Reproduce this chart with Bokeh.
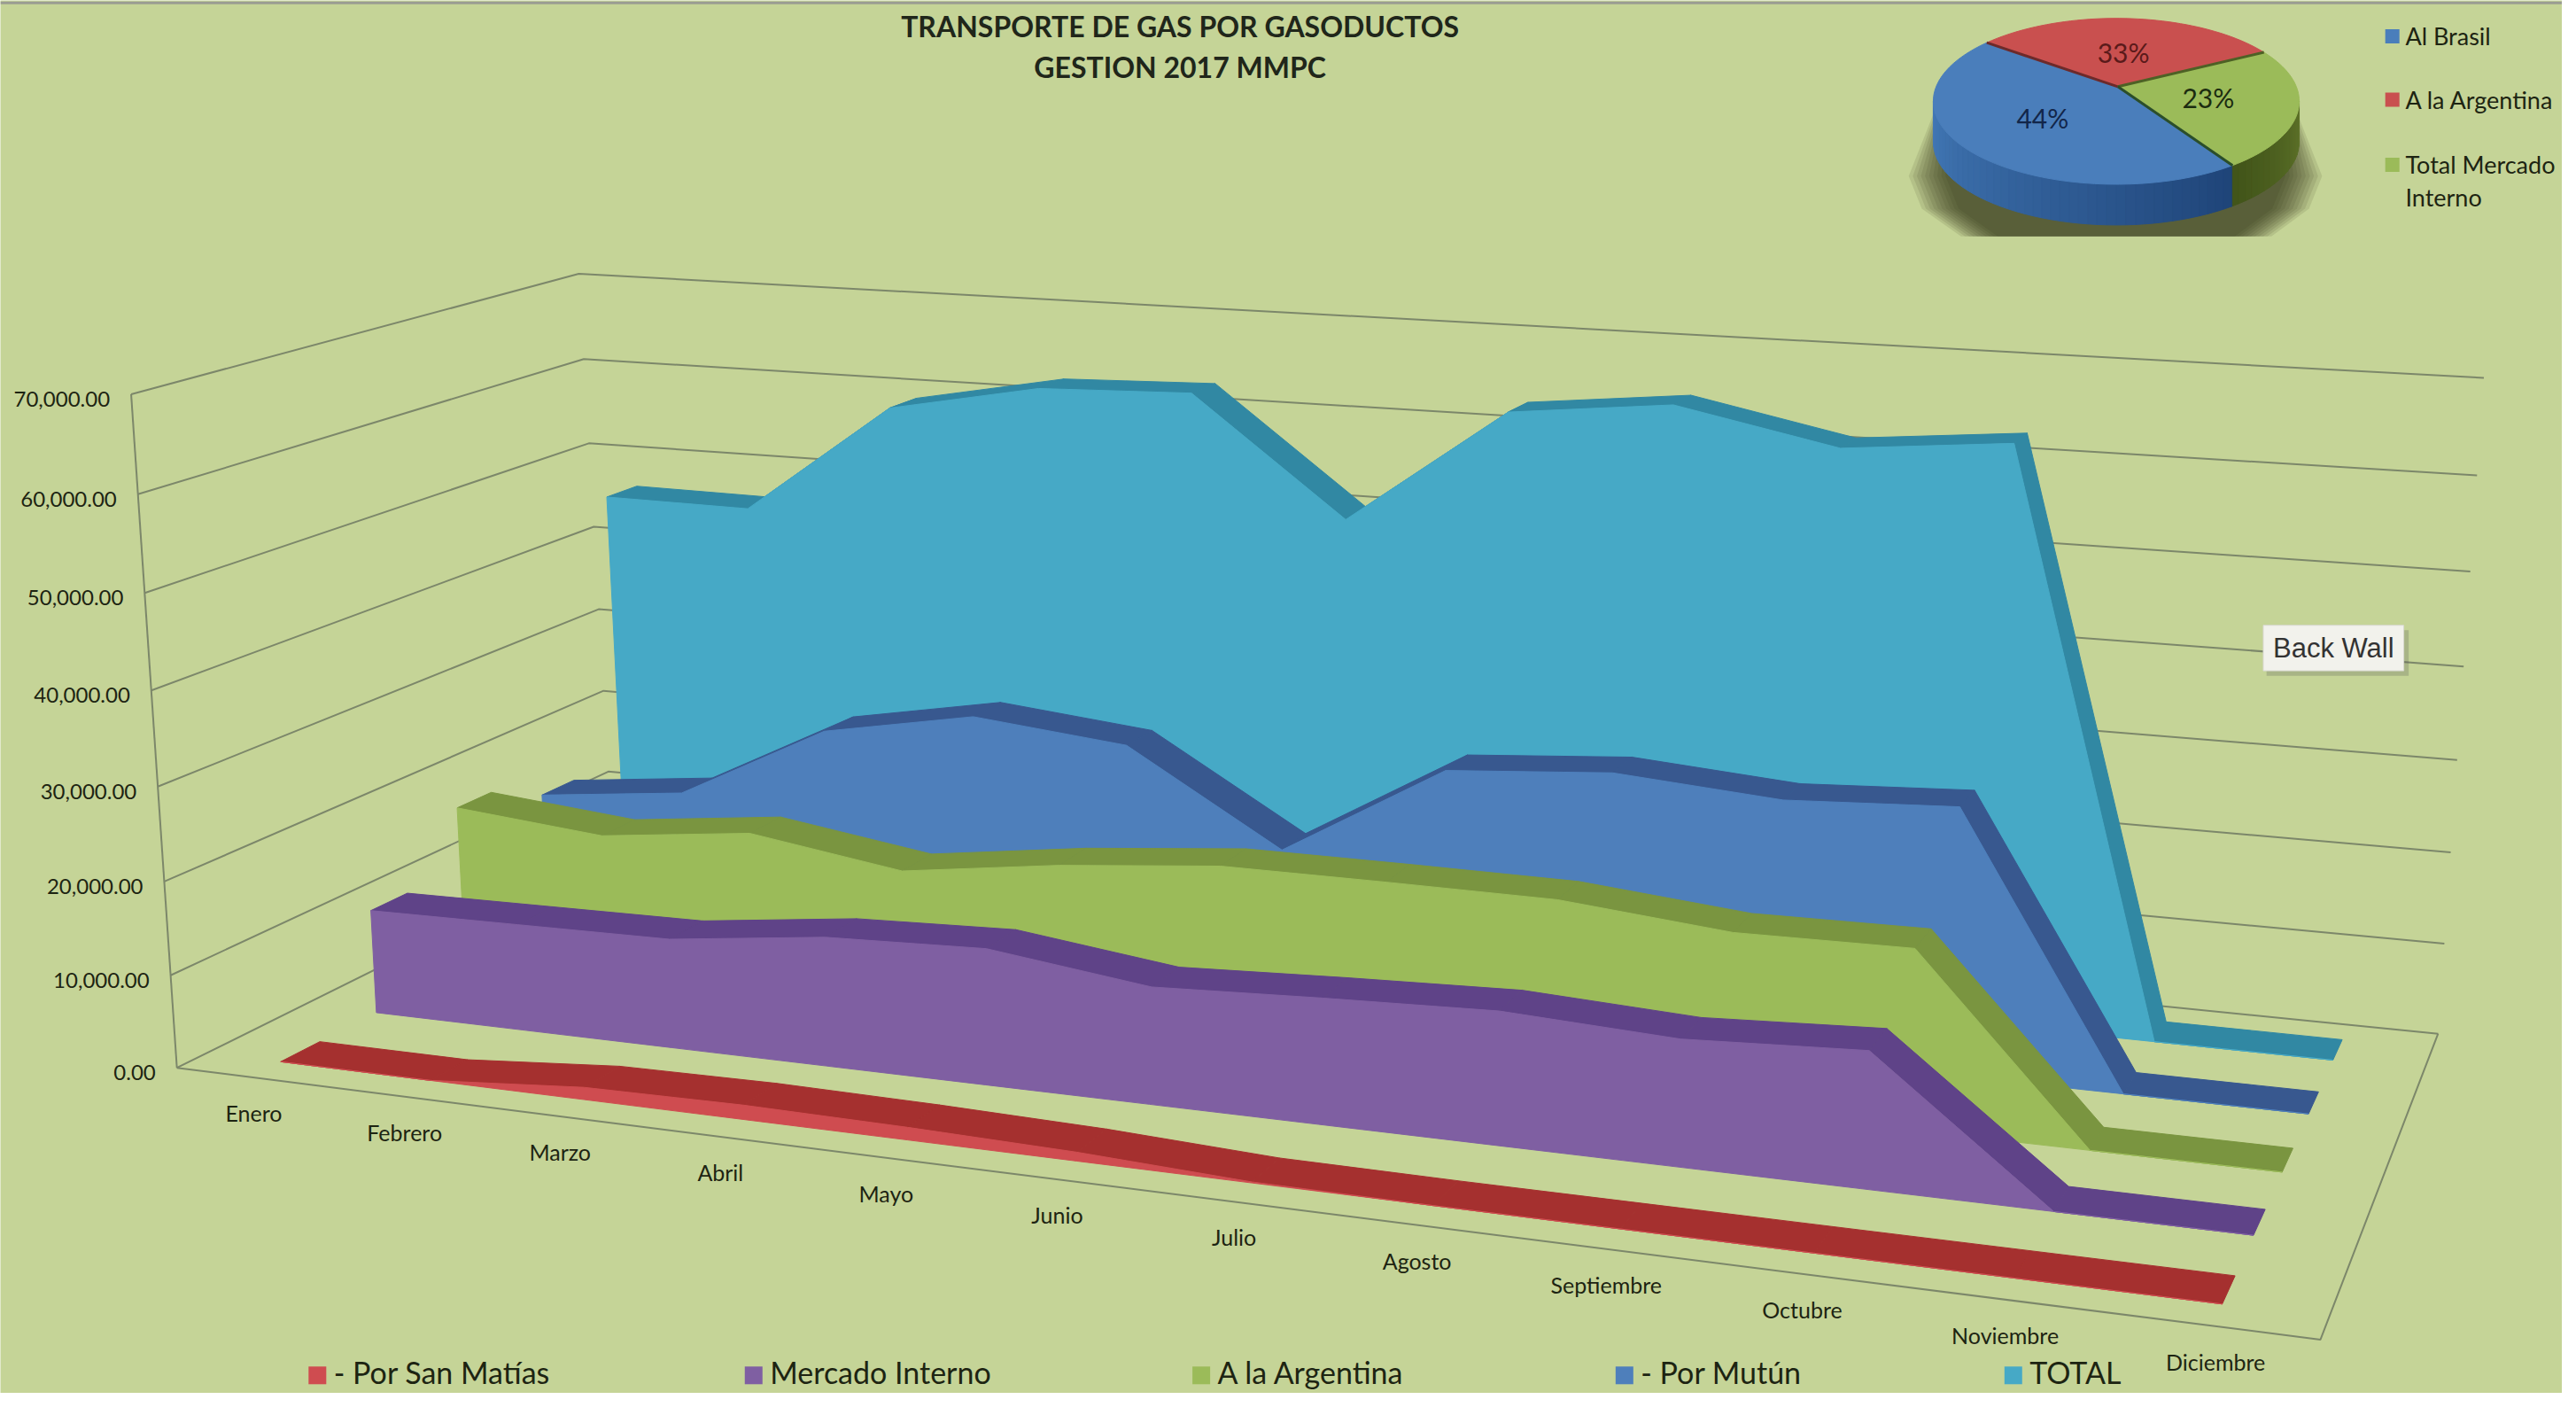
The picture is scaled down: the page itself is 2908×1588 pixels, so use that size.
from bokeh.plotting import figure
from bokeh.models import Range1d
from bokeh.embed import file_html
from bokeh.resources import INLINE
from bokeh.core.properties import value
import numpy as np

# ---------- data ----------
months = ["Enero", "Febrero", "Marzo", "Abril", "Mayo", "Junio", "Julio", "Agosto",
          "Septiembre", "Octubre", "Noviembre", "Diciembre"]
san_matias = [0, 0, 1300, 1500, 1300, 900, 100, 0, 0, 0, 0, 0]
mercado_interno = [11400, 11600, 11800, 13800, 14400, 12250, 13000, 13600, 12750, 13600, 0, 0]
a_la_argentina = [18250, 16700, 18600, 16100, 18400, 20000, 20000, 19900, 18300, 18500, 0, 0]
por_mutun = [15300, 17100, 25700, 28800, 27100, 17100, 27400, 28700, 27400, 28300, 0, 0]
total = [46400, 46200, 58800, 62000, 62500, 49700, 62500, 64300, 60800, 62400, 0, 0]
y_ticks = [0, 10000, 20000, 30000, 40000, 50000, 60000, 70000]

series_names = ["- Por San Matías", "Mercado Interno", "A la Argentina", "- Por Mutún", "TOTAL"]
series_values = [san_matias, mercado_interno, a_la_argentina, por_mutun, total]
face_colors = ["#CF4C50", "#7F5FA2", "#9BBB59", "#4E7FBB", "#46A9C6"]
rib_colors = ["#A5302F", "#5F4388", "#7A9540", "#38588F", "#3188A3"]

pie_names = ["A la Argentina", "Total Mercado", "Al Brasil"]
pie_shares = [33, 23, 44]
pie_colors = ["#C9504F", "#9BBB59", "#4A7EBB"]
pie_text_colors = ["#5a1a1a", "#1c2c10", "#12264a"]

BG = "#C5D497"
GRID = "#7C876A"
FONT = "Lato"

# ---------- picture space: a 1568 x 856 view ----------
p = figure(width=2892, height=1572, output_backend="svg", toolbar_location=None,
           x_range=Range1d(0, 1568), y_range=Range1d(856, 0),
           background_fill_color=BG, border_fill_color=BG, min_border=0)
p.xaxis.visible = False
p.yaxis.visible = False
p.grid.visible = False
p.outline_line_color = None


def fit_camera(c00, c10, c01, c11, tops):
    """Projective camera (u, v, t) -> screen, from floor corners and wall-top corners."""
    x0, y0 = c00; x1, y1 = c10; x2, y2 = c01; x3, y3 = c11
    dx1, dy1 = x1 - x3, y1 - y3
    dx2, dy2 = x2 - x3, y2 - y3
    sx, sy = x0 - x1 + x3 - x2, y0 - y1 + y3 - y2
    den = dx1 * dy2 - dx2 * dy1
    g = (sx * dy2 - dx2 * sy) / den
    h = (dx1 * sy - sx * dy1) / den
    a, b = x1 - x0 + g * x1, x2 - x0 + h * x2
    d, e = y1 - y0 + g * y1, y2 - y0 + h * y2
    rows, rhs = [], []
    for (u, v), (X, Y) in tops.items():
        w0 = 1 + g * u + h * v
        rows.append([1, 0, -X]); rhs.append(X * w0 - (a * u + b * v + x0))
        rows.append([0, 1, -Y]); rhs.append(Y * w0 - (d * u + e * v + y0))
    c, f, i = np.linalg.lstsq(np.array(rows, float), np.array(rhs, float), rcond=None)[0]

    def raw(u, v, t):
        u, v, t = np.asarray(u, float), np.asarray(v, float), np.asarray(t, float)
        w = 1 + g * u + h * v + i * t
        return (a * u + b * v + c * t + x0) / w, (d * u + e * v + f * t + y0) / w

    # residual at the wall-top corners, spread over the box so the walls land exactly
    res = {k: (X - raw(k[0], k[1], 1.0)[0], Y - raw(k[0], k[1], 1.0)[1]) for k, (X, Y) in tops.items()}

    def cam(u, v, t):
        u, v, t = np.asarray(u, float), np.asarray(v, float), np.asarray(t, float)
        x, y = raw(u, v, t)
        for n in (0, 1):
            r = ((1 - u) * (1 - v) * res[(0, 0)][n] + u * (1 - v) * res[(1, 0)][n]
                 + (1 - u) * v * res[(0, 1)][n] + u * v * res[(1, 1)][n]) * t
            if n == 0:
                x = x + r + 40 * u * (1 - u) * t
            else:
                y = y + r
        return x, y
    return cam


camera = fit_camera((108, 656), (1420, 823), (375, 523), (1492, 635),
                    {(0, 0): (80, 242), (0, 1): (354, 168), (1, 1): (1520, 232), (1, 0): (1462, 320)})
Y_MAX = 70000.0


def proj(u, v, val):
    return camera(u, v, np.asarray(val, float) / Y_MAX)


def month_u(m):
    return (np.asarray(m, float) + 0.5) / 12


# ---------- frame line of the screenshot ----------
p.line([0, 1568], [1.5, 1.5], line_color="#9a9c92", line_width=3)

# ---------- walls ----------
for tick in y_ticks:
    xs, ys = proj([0, 0, 1], [0, 1, 1], [tick, tick, tick])
    p.line(list(xs), list(ys), line_color=GRID, line_width=2)
xs, ys = proj([0, 0], [0, 0], [0, Y_MAX])
p.line(list(xs), list(ys), line_color=GRID, line_width=2)
xs, ys = proj([0, 1, 1], [0, 0, 1], [0, 0, 0])
p.line(list(xs), list(ys), line_color=GRID, line_width=2)

# ---------- areas, back row first ----------
m = np.arange(12)
for r in range(4, -1, -1):
    vals = np.array(series_values[r], float)
    v_f, v_b = (r + 0.3) / 5, (r + 0.7) / 5
    u = month_u(m)
    fx, fy = proj(u, np.full(12, v_f), vals)
    bx, by = proj(u, np.full(12, v_b), vals)
    qx = [[fx[i], fx[i + 1], bx[i + 1], bx[i]] for i in range(11)]
    qy = [[fy[i], fy[i + 1], by[i + 1], by[i]] for i in range(11)]
    p.patches(qx, qy, fill_color=rib_colors[r], line_color=rib_colors[r], line_width=1)
    zx, zy = proj(u, np.full(12, v_f), np.zeros(12))
    p.patch(list(fx) + list(zx[::-1]), list(fy) + list(zy[::-1]),
            fill_color=face_colors[r], line_color=face_colors[r], line_width=1)

# ---------- axis texts ----------
for tick in y_ticks:
    x, y = proj(0, 0, tick)
    p.text([float(x) - 13], [float(y) + 3], text=[f"{tick:,.2f}"], text_font=value(FONT),
           text_font_size=value("24px"), text_color="#1d2412", text_align="right", text_baseline="middle")
lx, ly = proj(month_u(m), np.zeros(12), np.zeros(12))
p.text(list(lx + 2), list(ly + 22), text=months, text_font=value(FONT),
       text_font_size=value("25px"), text_color="#1d2412", text_align="center", text_baseline="middle")

# ---------- titles ----------
for txt, yy in [("TRANSPORTE DE GAS POR GASODUCTOS", 16), ("GESTION 2017 MMPC", 41)]:
    p.text([722], [yy], text=[txt], text_font=value(FONT), text_font_size=value("32px"),
           text_font_style="bold", text_color="#20261a", text_align="center", text_baseline="middle")

# ---------- bottom legend ----------
leg_x = [194, 461, 735, 994, 1232]
p.scatter(leg_x, [845] * 5, marker="square", size=20, fill_color=face_colors, line_color=None)
p.text([x + 10 for x in leg_x], [843] * 5, text=series_names, text_font=value(FONT),
       text_font_size=value("34px"), text_color="#1d2412", text_align="left", text_baseline="middle")

# ---------- pie ----------
AX, AY = 1296, 53
CX, CY, RX, RY, DEPTH = 1295, 62, 112, 51, 25


def rim(deg):
    d = np.radians(deg)
    w = np.radians(deg + 3.6 + 11.6 * np.cos(d) - 0.9 * np.sin(d))
    return CX + RX * np.cos(w), CY - RY * np.sin(w)


# soft shadow under the disc
for k in range(10):
    sx = [1183 + k, 1168 + 2.5 * k, 1176 + 2.5 * k, 1200 + 2.5 * k, 1390 - 2.5 * k, 1413 - 2.5 * k, 1421 - 2.5 * k, 1406 - k]
    sy = [70, 108, 128, 145, 145, 128, 108, 70]
    p.patch(sx, sy, fill_color="#2a3010", fill_alpha=0.11, line_color=None)

# side wall
b_deg = 141 - (pie_shares[0] + pie_shares[1]) * 3.6
bx_, by_ = rim(b_deg)
b_ang = np.degrees(np.arctan2(-(by_ - CY) / RY, (bx_ - CX) / RX)) % 360


def mix(c1, c2, t):
    a = [int(c1[i:i + 2], 16) for i in (1, 3, 5)]
    b = [int(c2[i:i + 2], 16) for i in (1, 3, 5)]
    return "#%02x%02x%02x" % tuple(int(a[i] + (b[i] - a[i]) * t) for i in range(3))


angles = np.arange(180, 361, 3.0)
angles = np.sort(np.append(angles, b_ang))
for a0, a1 in zip(angles[:-1], angles[1:]):
    x0, x1 = CX + RX * np.cos(np.radians(a0)), CX + RX * np.cos(np.radians(a1))
    y0, y1 = CY - RY * np.sin(np.radians(a0)), CY - RY * np.sin(np.radians(a1))
    if a0 < b_ang:
        col = mix("#4379B7", "#1F4478", (a0 - 180) / (b_ang - 180))
    else:
        col = mix("#42551A", "#5F742B", (a0 - b_ang) / (360 - b_ang))
    p.patch([x0, x1, x1, x0], [y0, y1, y1 + DEPTH, y0 + DEPTH], fill_color=col, line_color=col, line_width=1)

# top of the disc
start = 141.0
for i, share in enumerate(pie_shares):
    end = start - share * 3.6
    rx_, ry_ = rim(np.linspace(start, end, 50))
    p.patch([AX] + list(rx_), [AY] + list(ry_), fill_color=pie_colors[i], line_color=pie_colors[i], line_width=1)
    mx, my = rim((start + end) / 2)
    p.text([AX + 0.5 * (float(mx) - AX)], [AY + 0.5 * (float(my) - AY)], text=[f"{share}%"],
           text_font=value(FONT), text_font_size=value("30px"), text_color=pie_text_colors[i],
           text_align="center", text_baseline="middle")
    start = end
start = 141.0
for share, col in zip(pie_shares, ["#6d2a2a", "#4d6125", "#2b4e2a"]):
    ex, ey = rim(start)
    p.line([AX, float(ex)], [AY, float(ey)], line_color=col, line_width=3)
    start -= share * 3.6

# pie legend
p.scatter([1464, 1464, 1464], [22, 61, 101], marker="square", size=16,
          fill_color=[pie_colors[2], pie_colors[0], pie_colors[1]], line_color=None)
p.text([1472] * 4, [22, 61, 101, 121], text=["Al Brasil", "A la Argentina", "Total Mercado", "Interno"],
       text_font=value(FONT), text_font_size=value("27px"), text_color="#1d2412",
       text_align="left", text_baseline="middle")

# ---------- "Back Wall" hover note ----------
p.quad(left=1387, right=1474, top=387, bottom=415, fill_color="#555", fill_alpha=0.25, line_color=None)
p.quad(left=1385, right=1471, top=384, bottom=412, fill_color="#F2F2EC", line_color="#d8d8d0")
p.text([1428], [398], text=["Back Wall"], text_font=value("Liberation Sans"), text_font_size=value("31px"),
       text_color="#333333", text_align="center", text_baseline="middle")

open("out.html", "w").write(file_html(p, INLINE))
